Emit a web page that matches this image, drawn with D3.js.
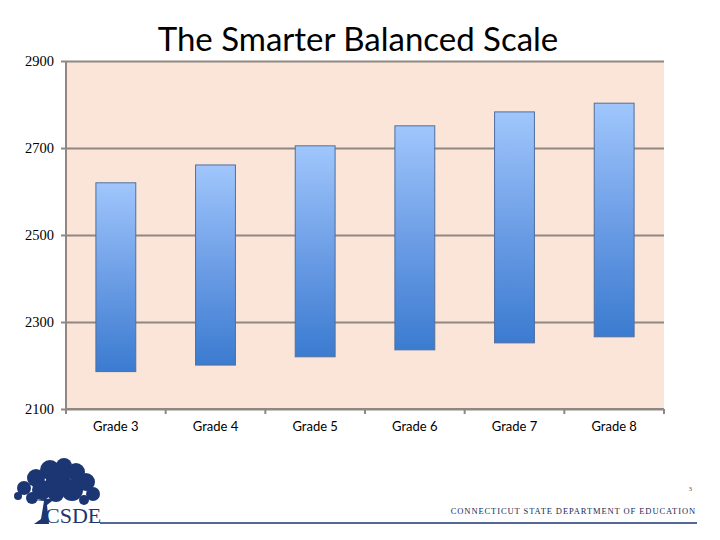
<!DOCTYPE html>
<html>
<head>
<meta charset="utf-8">
<script src="https://cdn.jsdelivr.net/npm/d3@7"></script>
<style>
  body { margin: 0; background: #fff; }
  svg { display: block; }
</style>
</head>
<body>
<div id="chart"></div>
<script>
// Score ranges per grade (lowest / highest obtainable scale score)
const grades = ["Grade 3", "Grade 4", "Grade 5", "Grade 6", "Grade 7", "Grade 8"];
const lowScores = [2186, 2201, 2220, 2236, 2252, 2266];
const highScores = [2620, 2661, 2705, 2751, 2783, 2803];
const yTicks = [2100, 2300, 2500, 2700, 2900];

const width = 720, height = 540;
const margin = {top: 61, right: 56, bottom: 131, left: 66};

const svg = d3.select("#chart").append("svg")
  .attr("width", width)
  .attr("height", height);

const defs = svg.append("defs");
const grad = defs.append("linearGradient")
  .attr("id", "barGrad")
  .attr("x1", 0).attr("y1", 0).attr("x2", 0).attr("y2", 1);
grad.append("stop").attr("offset", "0%").attr("stop-color", "#a0c6fc");
grad.append("stop").attr("offset", "50%").attr("stop-color", "#6d9ee6");
grad.append("stop").attr("offset", "100%").attr("stop-color", "#3b7bd0");

const x = d3.scaleBand()
  .domain(grades)
  .range([margin.left, width - margin.right])
  .paddingInner(0.6)
  .paddingOuter(0.3);

const y = d3.scaleLinear()
  .domain([2100, 2900])
  .range([height - margin.bottom, margin.top]);

// plot background
svg.append("rect")
  .attr("x", margin.left)
  .attr("y", margin.top)
  .attr("width", width - margin.left - margin.right)
  .attr("height", y(2100) - margin.top)
  .attr("fill", "#fae5d8");

// horizontal gridlines + left ticks
svg.append("g")
  .attr("transform", `translate(${margin.left},0)`)
  .call(d3.axisLeft(y).tickValues(yTicks)
    .tickSize(-(width - margin.left - margin.right))
    .tickSizeOuter(0)
    .tickPadding(12)
    .tickFormat(d3.format("d")))
  .call(g => g.select(".domain").remove())
  .call(g => g.selectAll(".tick line")
    .attr("x1", -5)
    .attr("stroke", "#8f8782")
    .attr("stroke-width", 2))
  .call(g => g.selectAll(".tick text")
    .attr("font-family", "Liberation Serif, serif")
    .attr("font-size", 14.5)
    .attr("fill", "#000"));

// left vertical axis line
svg.append("line")
  .attr("x1", margin.left).attr("x2", margin.left)
  .attr("y1", margin.top).attr("y2", y(2100) + 5)
  .attr("stroke", "#8f8782").attr("stroke-width", 2);

// bottom category axis
const step = (width - margin.left - margin.right) / grades.length;
const bottom = svg.append("g")
  .attr("transform", `translate(0,${y(2100)})`);
bottom.append("line")
  .attr("x1", margin.left).attr("x2", width - margin.right)
  .attr("stroke", "#8f8782").attr("stroke-width", 2);
bottom.selectAll("line.tk")
  .data(d3.range(grades.length + 1))
  .join("line")
    .attr("class", "tk")
    .attr("x1", i => margin.left + i * step)
    .attr("x2", i => margin.left + i * step)
    .attr("y1", 0).attr("y2", 5)
    .attr("stroke", "#8f8782").attr("stroke-width", 2);
bottom.selectAll("text")
  .data(grades)
  .join("text")
    .attr("x", d => x(d) + x.bandwidth() / 2)
    .attr("y", 22)
    .attr("text-anchor", "middle")
    .attr("font-family", "Lato, 'Open Sans', sans-serif")
    .attr("font-size", 13)
    .attr("fill", "#000")
    .text(d => d);

// floating range bars
svg.append("g")
  .selectAll("rect")
  .data(grades)
  .join("rect")
    .attr("x", d => x(d))
    .attr("width", x.bandwidth())
    .attr("y", (d, i) => y(highScores[i]))
    .attr("height", (d, i) => y(lowScores[i]) - y(highScores[i]))
    .attr("fill", "url(#barGrad)")
    .attr("stroke", "#4f6f9f")
    .attr("stroke-width", 1);

// title
svg.append("text")
  .attr("x", 358)
  .attr("y", 51)
  .attr("text-anchor", "middle")
  .attr("font-family", "Lato, 'Open Sans', sans-serif")
  .attr("font-size", 33)
  .attr("fill", "#000")
  .text("The Smarter Balanced Scale");

// footer
const navy = "#1b3672";
svg.append("line")
  .attr("x1", 100).attr("x2", 697)
  .attr("y1", 523).attr("y2", 523)
  .attr("stroke", navy).attr("stroke-width", 1.3);

svg.append("text")
  .attr("x", 692).attr("y", 491)
  .attr("text-anchor", "end")
  .attr("font-family", "Liberation Serif, serif")
  .attr("font-size", 7)
  .attr("fill", "#555")
  .text("3");

svg.append("text")
  .attr("x", 696).attr("y", 514)
  .attr("text-anchor", "end")
  .attr("font-family", "Liberation Serif, serif")
  .attr("font-size", 8.5)
  .attr("letter-spacing", 0.9)
  .attr("fill", "#1a2a55")
  .text("CONNECTICUT STATE DEPARTMENT OF EDUCATION");

// simple tree logo
const logo = svg.append("g").attr("fill", navy);
const canopy = [
  [50, 470, 10], [64, 466, 8], [76, 472, 9], [36, 478, 9], [58, 480, 12],
  [86, 482, 9], [24, 488, 7], [42, 490, 10], [72, 490, 11], [93, 494, 7],
  [18, 496, 4], [56, 494, 8], [84, 500, 5], [32, 498, 6]
];
logo.selectAll("circle")
  .data(canopy)
  .join("circle")
    .attr("cx", d => d[0]).attr("cy", d => d[1]).attr("r", d => d[2]);
logo.append("path")
  .attr("d", "M34,500 L44,501 L41,519 L34,524 L49,524 L47,505 L56,498 Z");
svg.append("text")
  .attr("x", 45).attr("y", 523)
  .attr("font-family", "Liberation Serif, serif")
  .attr("font-size", 22)
  .attr("fill", navy)
  .text("CSDE");
</script>
</body>
</html>
